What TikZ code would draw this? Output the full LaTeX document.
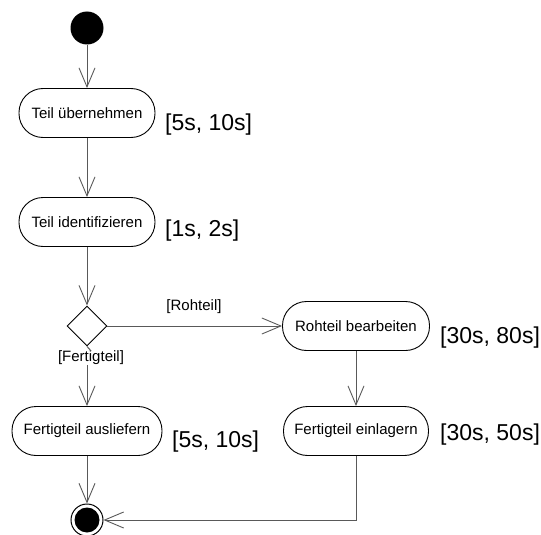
\documentclass[tikz,border=0pt]{standalone}
\usepackage{fontspec}
\setmainfont{Liberation Sans}
\usetikzlibrary{arrows.meta,shapes.geometric}
\begin{document}
\begin{tikzpicture}[x=1pt,y=-1pt,
  flow/.style={draw=black!65, line width=1pt,
    -{Straight Barb[length=19pt,width=16pt,line width=0.9pt]}},
  action/.style={draw=black, line width=0.9pt, fill=white,
    rectangle, rounded corners=24pt, minimum height=49pt,
    inner sep=0pt, font=\fontsize{15}{17}\selectfont},
  guard/.style={font=\fontsize{15}{17}\selectfont, inner sep=0pt},
  duration/.style={font=\fontsize{23}{26}\selectfont, anchor=west, inner sep=0pt},
  decision/.style={draw=black, line width=0.9pt, fill=white, diamond,
    minimum width=40pt, minimum height=40pt, inner sep=0pt}]
\useasboundingbox (0,0) rectangle (541,535);

% initial and final states
\node[circle, fill=black, minimum size=33pt, inner sep=0pt] (start) at (87,28) {};
\node[circle, draw=black, line width=1pt, fill=white, minimum size=32pt, inner sep=0pt] (end) at (87,520) {};
\node[circle, fill=black, minimum size=25pt, inner sep=0pt] (endcore) at (end) {};

% actions
\node[action, minimum width=136pt] (take) at (87,113) {Teil übernehmen};
\node[action, minimum width=136pt] (ident) at (87,222) {Teil identifizieren};
\node[decision] (dec) at (87,326) {};
\node[action, minimum width=150pt] (deliver) at (87,431) {Fertigteil ausliefern};
\node[action, minimum width=147pt] (machine) at (356,326) {Rohteil bearbeiten};
\node[action, minimum width=145pt] (store) at (356,431) {Fertigteil einlagern};

% durations
\node[duration] (d1) at (165,125) {[5s, 10s]};
\node[duration] (d2) at (165,231) {[1s, 2s]};
\node[duration] (d3) at (440,338) {[30s, 80s]};
\node[duration] (d4) at (440,435) {[30s, 50s]};
\node[duration] (d5) at (172,442) {[5s, 10s]};

% guards
\node[guard] (gr) at (194,307) {[Rohteil]};
\node[guard] (gf) at (91,358) {[Fertigteil]};

% control flow
\draw[flow] (start) -- (take);
\draw[flow] (take) -- (ident);
\draw[flow] (ident) -- (dec);
\draw[draw=black!65, line width=1pt] (dec.south) -- (gf.north);
\draw[flow] (gf.south -| dec) -- (deliver);
\draw[flow] (dec.east) -- (machine.west);
\draw[flow] (machine) -- (store);
\draw[flow] (deliver) -- (end);
\draw[flow] (store.south) |- (end.east);
\end{tikzpicture}
\end{document}
